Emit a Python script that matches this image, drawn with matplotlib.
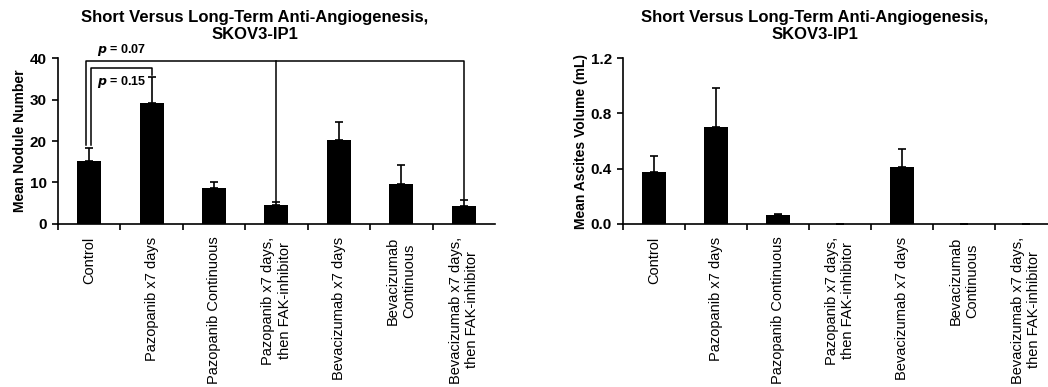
import matplotlib.pyplot as plt
import numpy as np

plt.rcParams['font.family'] = ['Liberation Sans', 'DejaVu Sans']

groups = ["Control", "Pazopanib x7 days", "Pazopanib Continuous",
          "Pazopanib x7 days,\nthen FAK-inhibitor", "Bevacizumab x7 days",
          "Bevacizumab\nContinuous", "Bevacizumab x7 days,\nthen FAK-inhibitor"]

nodules = [15.2, 29.2, 8.6, 4.65, 20.2, 9.6, 4.3]
nodules_err = [3.0, 6.3, 1.6, 0.55, 4.4, 4.5, 1.4]

ascites = [0.378, 0.70, 0.065, 0.0, 0.412, 0.0, 0.0]
ascites_err = [0.116, 0.28, 0.01, 0.0, 0.128, 0.0, 0.0]

title = "Short Versus Long-Term Anti-Angiogenesis,\nSKOV3-IP1"

fig = plt.figure(figsize=(10.48, 3.87), dpi=100)
ax1 = fig.add_axes([0.0553, 0.4212, 0.417, 0.4289])
ax2 = fig.add_axes([0.5945, 0.4212, 0.4141, 0.4289])


def draw_panel(ax, vals, errs, ymax, yticks, ylabels, ylabel):
    x = np.arange(len(groups))
    ax.bar(x, vals, width=0.385, color="black", zorder=2)
    ax.errorbar(x, vals, yerr=[np.zeros(len(errs)), errs], fmt="none",
                ecolor="black", elinewidth=1.2, capsize=3, capthick=1.2, zorder=3)
    ax.set_xlim(-0.5, 6.5)
    ax.set_ylim(0, ymax)
    ax.set_yticks(yticks)
    ax.set_yticklabels(ylabels, fontsize=11, fontweight="bold")
    ax.set_xticks(np.arange(-0.5, 6.0, 1.0))
    ax.set_xticklabels([])
    ax.set_xticks(x, groups, minor=True, rotation=90, fontsize=10.5,
                  ha="center", va="top", multialignment="center")
    ax.tick_params(axis="x", which="minor", length=0, pad=9)
    ax.tick_params(axis="x", which="major", direction="out", length=4, width=1.2)
    ax.tick_params(axis="y", direction="out", length=4, width=1.2, pad=4)
    ax.spines["top"].set_visible(False)
    ax.spines["right"].set_visible(False)
    ax.spines["left"].set_linewidth(1.2)
    ax.spines["bottom"].set_linewidth(1.2)
    ax.set_ylabel(ylabel, fontsize=10, fontweight="bold", labelpad=2)


draw_panel(ax1, nodules, nodules_err, 40, [0, 10, 20, 30, 40],
           ["0", "10", "20", "30", "40"], "Mean Nodule Number")
draw_panel(ax2, ascites, ascites_err, 1.2, [0.0, 0.4, 0.8, 1.2],
           ["0.0", "0.4", "0.8", "1.2"], "Mean Ascites Volume (mL)")

# Signifikanz-Klammern
lw = 1.1
ax1.plot([-0.05, -0.05, 6.0, 6.0], [19.0, 39.2, 39.2, 6.0], color="black",
         lw=lw, clip_on=False, zorder=4)
ax1.plot([3.0, 3.0], [39.2, 5.4], color="black", lw=lw, clip_on=False, zorder=4)
ax1.plot([0.03, 0.03, 1.0, 1.0], [19.0, 37.5, 37.5, 35.9], color="black",
         lw=lw, clip_on=False, zorder=4)
ax1.text(0.13, 41.9, r"$\boldsymbol{p}$ = 0.07", fontsize=9, fontweight="bold",
         ha="left", va="center")
ax1.text(0.13, 34.2, r"$\boldsymbol{p}$ = 0.15", fontsize=9, fontweight="bold",
         ha="left", va="center")

fig.text(255 / 1048, 1 - 26 / 387, title, ha="center", va="center",
         fontsize=12, fontweight="bold", linespacing=1.1)
fig.text(815 / 1048, 1 - 26 / 387, title, ha="center", va="center",
         fontsize=12, fontweight="bold", linespacing=1.1)

fig.savefig("out.png", dpi=100)
